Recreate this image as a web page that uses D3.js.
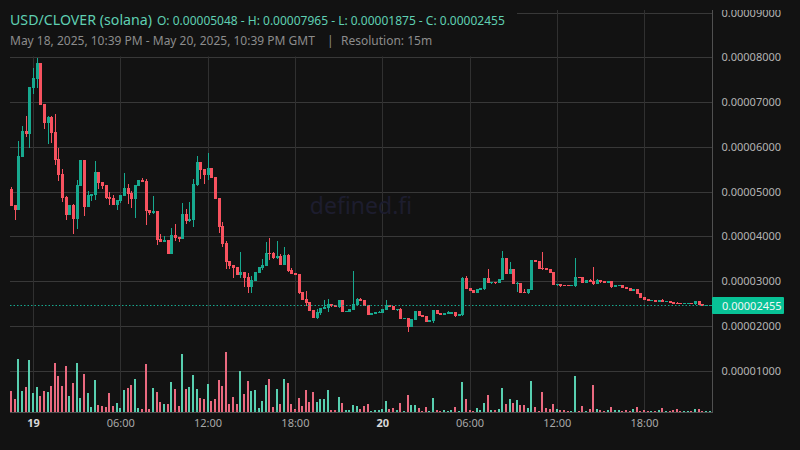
<!DOCTYPE html>
<html><head><meta charset="utf-8">
<script src="https://cdnjs.cloudflare.com/ajax/libs/d3/7.8.5/d3.min.js"></script>
<style>html,body{margin:0;padding:0;background:#121212;overflow:hidden}svg{display:block}text{font-family:"Noto Sans",sans-serif}</style>
</head><body><svg id="c" width="800" height="450"></svg>
<script>
// prices in units of 1e-8
const open=[5057,4699,4588,5772,6353,6286,7314,7515,7872,6956,
6532,6666,6331,5727,5392,4878,4476,4699,4386,5124,
5705,4655,4900,4923,5437,5213,5146,4878,4856,4699,
4789,4900,5079,4967,4833,5124,5258,5236,4588,4520,
4565,3939,3872,3917,3604,4029,3984,3940,4498,4342,
4364,5146,5660,5504,5370,5526,5325,4856,4230,3850,
3448,3359,3314,3135,3202,3090,2867,3001,3180,3291,
3336,3627,3627,3515,3560,3359,3582,3247,3180,3157,
2755,2599,2532,2353,2174,2286,2375,2398,2487,2465,
2420,2576,2308,2308,2353,2464,2599,2576,2464,2241,
2263,2286,2286,2353,2464,2442,2353,2375,2152,2174,
1973,2129,2330,2241,2219,2085,2107,2353,2286,2241,
2263,2263,2308,2219,2241,3068,2844,2800,2733,2800,
2822,3068,2956,2978,2956,3023,3515,3157,3269,2934,
2956,2755,2733,2800,3470,3448,3291,3291,3269,3202,
2911,2934,2911,2911,2889,2889,3090,3090,2956,3023,
3001,2934,3023,3001,2956,3001,2867,2889,2911,2867,
2844,2777,2822,2733,2643,2599,2554,2576,2531,2576,
2531,2554,2531,2509,2509,2487,2487,2509,2487,2554,2487,2442,2442];
const high=[5101,4699,6129,6465,6688,7336,7761,7984,7872,6956,
6688,6688,6733,5973,5504,4900,4699,4722,5258,5705,
5705,5012,4945,5682,5437,5213,5146,4990,4923,4811,
4923,5414,5168,5012,5146,5258,5303,5280,4588,4900,
4565,4051,4006,3917,4185,4275,3984,4744,4610,4766,
5280,5794,5660,5504,5861,5526,5325,4856,4320,3895,
3448,3359,3314,3649,3202,3180,3113,3202,3314,3493,
3873,3962,3649,3895,3604,3761,3604,3291,3180,3157,
2755,2778,2532,2353,2375,2398,2576,2599,2487,2465,
2576,2576,2330,2375,3224,2621,2621,2576,2464,2286,
2308,2330,2375,2576,2464,2442,2375,2397,2174,2174,
2152,2330,2330,2241,2219,2129,2353,2353,2286,2286,
2330,2308,2308,2263,3090,3113,2844,2800,2822,2844,
3068,3269,2978,2978,3045,3671,3515,3425,3269,2978,
2956,2822,2822,3470,3470,3448,3649,3291,3269,3202,
2934,2934,2911,2911,2911,3515,3090,3090,3023,3045,
3314,3045,3023,3001,3001,3001,2911,2911,2911,2867,
2844,2822,2822,2733,2643,2599,2576,2576,2576,2599,
2554,2554,2531,2531,2509,2509,2509,2509,2554,2554,2487,2464,2464];
const low=[4677,4364,4588,5772,6219,5973,7180,7314,6934,6398,
6062,6085,5593,5236,4766,4364,4476,4051,4163,5124,
4453,4655,4789,4811,5057,5057,4833,4699,4699,4588,
4744,4900,4722,4632,4409,5124,5213,4252,4476,4498,
3805,3872,3872,3604,3604,3895,3873,3940,4275,4320,
4208,5124,5280,5169,5258,5303,4834,4074,3761,3269,
3269,3068,3135,3068,2867,2733,2733,3001,3180,3247,
3336,3470,3493,3493,3359,3359,3202,3157,3135,2711,
2576,2442,2331,2174,2152,2241,2375,2308,2420,2420,
2398,2308,2308,2308,2353,2464,2554,2442,2241,2241,
2263,2286,2286,2353,2420,2353,2330,2152,2152,1861,
1973,2129,2219,2196,2085,2085,2062,2263,2241,2241,
2263,2263,2196,2219,2219,2822,2777,2733,2733,2800,
2800,2956,2934,2934,2956,3023,3157,3157,2934,2755,
2733,2733,2710,2800,3425,3269,3247,3247,3180,2911,
2889,2867,2889,2889,2889,2867,3068,2956,2956,2978,
2911,2934,2956,2956,2956,2844,2867,2889,2844,2822,
2777,2777,2710,2621,2576,2554,2554,2531,2531,2531,
2531,2509,2487,2487,2487,2487,2487,2487,2464,2464,2442,2442,2442];
const close=[4677,4588,5794,6353,6286,7336,7537,7872,6934,6532,
6666,6308,5705,5370,4856,4476,4699,4386,5146,5705,
4655,4923,4945,5437,5191,5124,4856,4833,4699,4811,
4923,5079,4945,4833,5146,5258,5213,4565,4520,4565,
3917,3872,3917,3604,4029,3962,3940,4498,4342,4387,
5169,5660,5482,5370,5526,5303,4834,4208,3828,3426,
3336,3291,3135,3202,3068,2867,3023,3202,3314,3359,
3627,3604,3515,3560,3359,3582,3225,3157,3135,2733,
2576,2509,2331,2174,2308,2398,2420,2487,2442,2420,
2576,2308,2330,2375,2487,2599,2554,2442,2241,2286,
2308,2308,2375,2464,2420,2353,2375,2152,2174,1973,
2152,2330,2219,2196,2085,2129,2353,2263,2241,2286,
2308,2308,2219,2263,3068,2822,2777,2733,2822,2844,
3068,2956,2978,2956,3045,3515,3157,3269,2934,2956,
2733,2733,2822,3470,3425,3269,3269,3247,3180,2911,
2934,2889,2889,2889,2911,3090,3068,2956,3023,2978,
2934,3023,2978,2956,3001,2867,2911,2911,2844,2822,
2777,2822,2710,2621,2576,2554,2576,2531,2576,2531,
2554,2509,2487,2487,2487,2509,2509,2487,2554,2464,2442,2464,2455];
const volume=[63,39,159,63,75,156,57,75,48,63,
60,78,147,108,78,138,48,87,147,42,
114,57,15,96,21,18,15,57,18,27,
12,66,72,81,99,12,9,144,9,72,
60,30,24,24,90,69,18,174,69,75,
111,69,42,39,84,33,39,96,78,180,
24,45,24,123,54,93,63,66,12,33,
81,99,15,69,24,99,87,24,9,42,
18,66,30,60,30,39,39,66,6,6,
45,27,6,6,21,18,9,18,24,3,
6,6,9,33,9,12,6,27,3,51,
21,21,12,3,15,3,42,6,3,6,
3,6,15,3,90,39,6,3,12,6,
27,51,6,6,9,72,24,39,27,36,
21,21,12,93,15,3,60,12,9,24,
9,6,6,3,3,108,3,18,3,9,
81,9,6,3,6,15,6,6,3,6,
3,9,15,3,6,3,3,3,6,12,
3,3,6,9,3,3,3,3,9,9,3,3,3];
const priceTicks=[1000,2000,3000,4000,5000,6000,7000,8000,9000];
const timeTickHours=[0,6,12,18,24,30,36,42];
const timeTickLabels=["19","06:00","12:00","18:00","20","06:00","12:00","18:00"];
const lastPrice=2455;
const titleText="USD/CLOVER (solana)";
const ohlcText="O: 0.00005048 - H: 0.00007965 - L: 0.00001875 - C: 0.00002455";
const rangeText="May 18, 2025, 10:39 PM - May 20, 2025, 10:39 PM GMT";
const resText="Resolution: 15m";

const GREEN="#17a98f",RED="#f7525f",VG="#58cfb0",VR="#ea6a80";
const n=open.length;
const svg=d3.select("#c");
const L=10,R=712.5,T=10,B=412;
svg.append("rect").attr("width",800).attr("height",450).attr("fill","#121212");
const x=d3.scaleLinear().domain([0,48]).range([33,33+174.6*4]);
const xi=i=>x(-1.5+i*0.25);
const y=d3.scaleLinear().domain([1000,9000]).range([370.5,12.55]);
const v=d3.scaleLinear().domain([0,180]).range([B,B-60]);

// grid via axes
const gridH=svg.append("g").attr("transform",`translate(${L},0)`)
 .call(d3.axisRight(y).tickValues(priceTicks).tickSize(R-L).tickFormat(""));
gridH.select(".domain").remove();
gridH.selectAll("line").attr("stroke","#383838").attr("shape-rendering","crispEdges");
const gridV=svg.append("g").attr("transform",`translate(0,${B})`)
 .call(d3.axisTop(x).tickValues(timeTickHours).tickSize(B-T).tickFormat(""));
gridV.select(".domain").remove();
gridV.selectAll("line").attr("stroke","#303030").attr("shape-rendering","crispEdges");

svg.append("text").attr("x",361).attr("y",214).attr("text-anchor","middle")
 .attr("font-size",23).attr("fill","#1d1d2e").text("defined.fi");

const idx=d3.range(n);
// volume
svg.append("g").selectAll("rect").data(idx).join("rect")
 .attr("x",i=>Math.round(xi(i)-1)).attr("width",2)
 .attr("y",i=>v(volume[i])).attr("height",i=>B-v(volume[i]))
 .attr("fill",i=>close[i]>=open[i]?VG:VR).attr("shape-rendering","crispEdges");
// candles
const cg=svg.append("g");
cg.selectAll("line").data(idx).join("line")
 .attr("x1",i=>Math.round(xi(i))+0.5).attr("x2",i=>Math.round(xi(i))+0.5)
 .attr("y1",i=>y(high[i])).attr("y2",i=>y(low[i]))
 .attr("stroke",i=>close[i]>=open[i]?GREEN:RED).attr("shape-rendering","crispEdges");
cg.selectAll("rect").data(idx).join("rect")
 .attr("x",i=>Math.round(xi(i))-1).attr("width",3)
 .attr("y",i=>y(Math.max(open[i],close[i])))
 .attr("height",i=>Math.max(1,Math.abs(y(open[i])-y(close[i]))))
 .attr("fill",i=>close[i]>=open[i]?GREEN:RED).attr("shape-rendering","crispEdges");

// last price line
svg.append("line").attr("x1",L).attr("x2",R).attr("y1",Math.round(y(lastPrice))+0.5).attr("y2",Math.round(y(lastPrice))+0.5)
 .attr("stroke",GREEN).attr("stroke-dasharray","1.5 2");

// legend mask
svg.append("rect").attr("x",0).attr("y",0).attr("width",517).attr("height",56.5).attr("fill","#121212");
svg.append("rect").attr("x",0).attr("y",56).attr("width",L).attr("height",400).attr("fill","#121212");

// frame
svg.append("line").attr("x1",L).attr("x2",R).attr("y1",B+0.5).attr("y2",B+0.5).attr("stroke","#505050");
svg.append("line").attr("x1",R).attr("x2",R).attr("y1",T).attr("y2",B+1).attr("stroke","#505050");

// price axis
svg.append("clipPath").attr("id","ac").append("rect").attr("x",0).attr("y",T).attr("width",90).attr("height",420);
const pa=svg.append("g").attr("clip-path","url(#ac)").attr("transform",`translate(${R},0)`)
 .call(d3.axisRight(y).tickValues(priceTicks).tickSize(0).tickPadding(9).tickFormat(d=>(d/1e8).toFixed(8)));
pa.select(".domain").remove();
pa.selectAll("text").attr("fill","#b4b4b4").attr("font-size",11).attr("font-family",'"Noto Sans",sans-serif');

// time axis
const ta=svg.append("g").attr("transform",`translate(0,${B})`)
 .call(d3.axisBottom(x).tickValues(timeTickHours).tickSize(0).tickPadding(7).tickFormat((d,i)=>timeTickLabels[i]));
ta.select(".domain").remove();
ta.selectAll("text").attr("fill",(d,i)=>timeTickLabels[i].length<3?"#d8d8d8":"#a8a8a8")
 .attr("font-size",11).attr("font-weight",(d,i)=>timeTickLabels[i].length<3?700:400).attr("font-family",'"Noto Sans",sans-serif');

// price tag
const ty=y(lastPrice);
svg.append("rect").attr("x",712).attr("y",297).attr("width",72).attr("height",17).attr("rx",1).attr("fill","#08c296");
svg.append("text").attr("x",722).attr("y",ty+4.3).attr("font-size",11).attr("fill","#f0f8f6").text((lastPrice/1e8).toFixed(8));

// header
svg.append("text").attr("x",10).attr("y",25).attr("font-size",14.2).attr("fill","#5fd0b2").text(titleText);
svg.append("text").attr("x",157).attr("y",25).attr("font-size",12).attr("fill","#5fd0b2").text(ohlcText);
svg.append("text").attr("x",10).attr("y",45).attr("font-size",12).attr("fill","#8c8c8c").text(rangeText);
svg.append("text").attr("x",327).attr("y",45).attr("font-size",12).attr("fill","#8c8c8c").text("|");
svg.append("text").attr("x",341).attr("y",45).attr("font-size",12).attr("fill","#8c8c8c").text(resText);
</script></body></html>
